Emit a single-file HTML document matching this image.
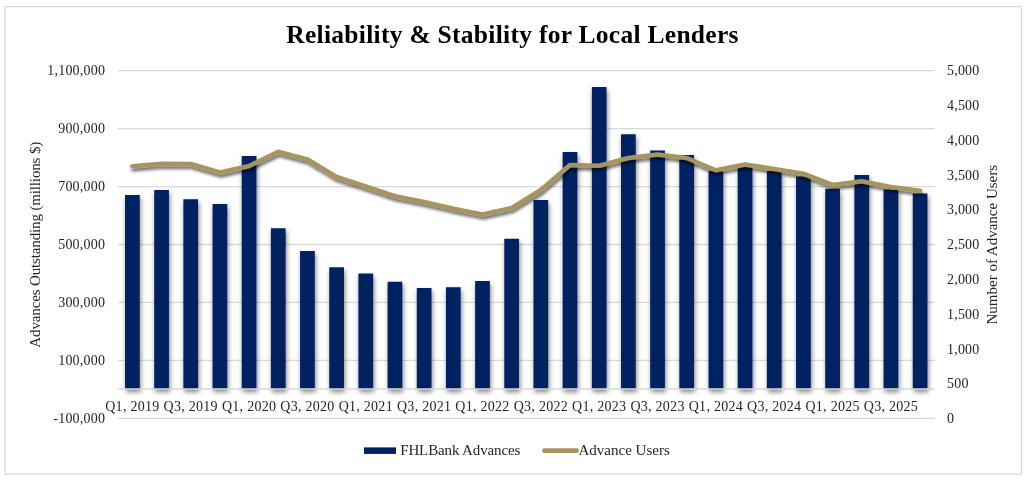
<!DOCTYPE html>
<html><head><meta charset="utf-8"><title>Reliability &amp; Stability for Local Lenders</title>
<style>
html,body{margin:0;padding:0;background:#fff;}
body{width:1024px;height:482px;overflow:hidden;}
svg{display:block;}
text{font-family:"Liberation Serif", serif;fill:#262626;}
.ax{font-size:14px;letter-spacing:0.2px;}
.xl{font-size:14px;letter-spacing:0.27px;}
.ttl{font-size:25.5px;font-weight:bold;fill:#000;letter-spacing:0.285px;}
.at{font-size:15px;}
.atl{letter-spacing:-0.14px;}
.lg{font-size:15px;}
.lg1{letter-spacing:-0.13px;}
</style></head><body>
<svg width="1024" height="482" viewBox="0 0 1024 482">
<defs>
<filter id="sh" x="-50%" y="-10%" width="220%" height="125%"><feGaussianBlur in="SourceAlpha" stdDeviation="2.5"/><feOffset dx="1.2" dy="2.5"/><feComponentTransfer><feFuncA type="linear" slope="0.5"/></feComponentTransfer><feMerge><feMergeNode/><feMergeNode in="SourceGraphic"/></feMerge></filter>
<filter id="sh2" x="-5%" y="-30%" width="110%" height="170%"><feGaussianBlur in="SourceAlpha" stdDeviation="1.6"/><feOffset dx="0.8" dy="2.6"/><feComponentTransfer><feFuncA type="linear" slope="0.55"/></feComponentTransfer><feMerge><feMergeNode/><feMergeNode in="SourceGraphic"/></feMerge></filter>
</defs>
<rect x="0" y="0" width="1024" height="482" fill="#fff"/>
<rect x="5" y="6.6" width="1016.4" height="467.5" fill="#fff" stroke="#d9d9d9" stroke-width="1.3"/>

<g stroke="#d9d9d9" stroke-width="1.3" fill="none">
<line x1="117.8" y1="70.7" x2="934.7" y2="70.7"/>
<line x1="117.8" y1="128.64" x2="934.7" y2="128.64"/>
<line x1="117.8" y1="186.57999999999998" x2="934.7" y2="186.57999999999998"/>
<line x1="117.8" y1="244.51999999999998" x2="934.7" y2="244.51999999999998"/>
<line x1="117.8" y1="302.46" x2="934.7" y2="302.46"/>
<line x1="117.8" y1="360.4" x2="934.7" y2="360.4"/>
<line x1="117.8" y1="418.34" x2="934.7" y2="418.34"/>
</g>
<g fill="#002060" filter="url(#sh)">
<rect x="125.04" y="195" width="14.7" height="194.00"/>
<rect x="154.21" y="190" width="14.7" height="199.00"/>
<rect x="183.39" y="199.25" width="14.7" height="189.75"/>
<rect x="212.56" y="204" width="14.7" height="185.00"/>
<rect x="241.74" y="156" width="14.7" height="233.00"/>
<rect x="270.91" y="228.25" width="14.7" height="160.75"/>
<rect x="300.09" y="251" width="14.7" height="138.00"/>
<rect x="329.26" y="267.25" width="14.7" height="121.75"/>
<rect x="358.44" y="273.5" width="14.7" height="115.50"/>
<rect x="387.61" y="281.75" width="14.7" height="107.25"/>
<rect x="416.79" y="288" width="14.7" height="101.00"/>
<rect x="445.96" y="287.25" width="14.7" height="101.75"/>
<rect x="475.14" y="281" width="14.7" height="108.00"/>
<rect x="504.31" y="238.75" width="14.7" height="150.25"/>
<rect x="533.49" y="200" width="14.7" height="189.00"/>
<rect x="562.66" y="152" width="14.7" height="237.00"/>
<rect x="591.84" y="87" width="14.7" height="302.00"/>
<rect x="621.01" y="134.25" width="14.7" height="254.75"/>
<rect x="650.19" y="150.5" width="14.7" height="238.50"/>
<rect x="679.36" y="155" width="14.7" height="234.00"/>
<rect x="708.54" y="171" width="14.7" height="218.00"/>
<rect x="737.71" y="167" width="14.7" height="222.00"/>
<rect x="766.89" y="171" width="14.7" height="218.00"/>
<rect x="796.06" y="176.5" width="14.7" height="212.50"/>
<rect x="825.24" y="188.75" width="14.7" height="200.25"/>
<rect x="854.41" y="175" width="14.7" height="214.00"/>
<rect x="883.59" y="189.5" width="14.7" height="199.50"/>
<rect x="912.76" y="193.5" width="14.7" height="195.50"/>
</g>
<line x1="117.8" y1="389.0" x2="934.7" y2="389.0" stroke="#d9d9d9" stroke-width="1.3"/>
<polyline points="132.39,166.25 161.56,163.75 190.74,164 219.91,172.5 249.09,166 278.26,151.75 307.44,159.5 336.61,177 365.79,186.5 394.96,196.25 424.14,202 453.31,208.75 482.49,214.5 511.66,208 540.84,190 570.01,165 599.19,165.75 628.36,158 657.54,154.5 686.71,158 715.89,170.25 745.06,164.4 774.24,169 803.41,173.75 832.59,185 861.76,181.25 890.94,187 920.11,190.75" fill="none" stroke="#a7945e" stroke-width="4.6" stroke-linecap="round" stroke-linejoin="round" filter="url(#sh2)"/>
<text class="ax" x="105.1" y="75.4" text-anchor="end">1,100,000</text>
<text class="ax" x="105.1" y="133.33999999999997" text-anchor="end">900,000</text>
<text class="ax" x="105.1" y="191.27999999999997" text-anchor="end">700,000</text>
<text class="ax" x="105.1" y="249.21999999999997" text-anchor="end">500,000</text>
<text class="ax" x="105.1" y="307.15999999999997" text-anchor="end">300,000</text>
<text class="ax" x="105.1" y="365.09999999999997" text-anchor="end">100,000</text>
<text class="ax" x="105.1" y="423.03999999999996" text-anchor="end">-100,000</text>
<text class="ax" x="947" y="75.40">5,000</text>
<text class="ax" x="947" y="110.16">4,500</text>
<text class="ax" x="947" y="144.93">4,000</text>
<text class="ax" x="947" y="179.69">3,500</text>
<text class="ax" x="947" y="214.46">3,000</text>
<text class="ax" x="947" y="249.22">2,500</text>
<text class="ax" x="947" y="283.98">2,000</text>
<text class="ax" x="947" y="318.75">1,500</text>
<text class="ax" x="947" y="353.51">1,000</text>
<text class="ax" x="947" y="388.28">500</text>
<text class="ax" x="947" y="423.04">0</text>
<text class="xl" x="132.39" y="410.5" text-anchor="middle">Q1, 2019</text>
<text class="xl" x="190.74" y="410.5" text-anchor="middle">Q3, 2019</text>
<text class="xl" x="249.09" y="410.5" text-anchor="middle">Q1, 2020</text>
<text class="xl" x="307.44" y="410.5" text-anchor="middle">Q3, 2020</text>
<text class="xl" x="365.79" y="410.5" text-anchor="middle">Q1, 2021</text>
<text class="xl" x="424.14" y="410.5" text-anchor="middle">Q3, 2021</text>
<text class="xl" x="482.49" y="410.5" text-anchor="middle">Q1, 2022</text>
<text class="xl" x="540.84" y="410.5" text-anchor="middle">Q3, 2022</text>
<text class="xl" x="599.19" y="410.5" text-anchor="middle">Q1, 2023</text>
<text class="xl" x="657.54" y="410.5" text-anchor="middle">Q3, 2023</text>
<text class="xl" x="715.89" y="410.5" text-anchor="middle">Q1, 2024</text>
<text class="xl" x="774.24" y="410.5" text-anchor="middle">Q3, 2024</text>
<text class="xl" x="832.59" y="410.5" text-anchor="middle">Q1, 2025</text>
<text class="xl" x="890.94" y="410.5" text-anchor="middle">Q3, 2025</text>
<text class="ttl" x="512.5" y="43" text-anchor="middle">Reliability &amp; Stability for Local Lenders</text>
<text class="at atl" transform="translate(40,244.75) rotate(-90)" text-anchor="middle">Advances Outstanding (millions $)</text>
<text class="at" transform="translate(997,244.7) rotate(-90)" text-anchor="middle">Number of Advance Users</text>
<rect x="364" y="447.4" width="32" height="6.5" fill="#002060"/>
<text class="lg lg1" x="400.2" y="455.2">FHLBank Advances</text>
<line x1="544.3" y1="450.6" x2="576.7" y2="450.6" stroke="#a7945e" stroke-width="4.6" stroke-linecap="round"/>
<text class="lg" x="578.5" y="455.2">Advance Users</text>
</svg></body></html>
